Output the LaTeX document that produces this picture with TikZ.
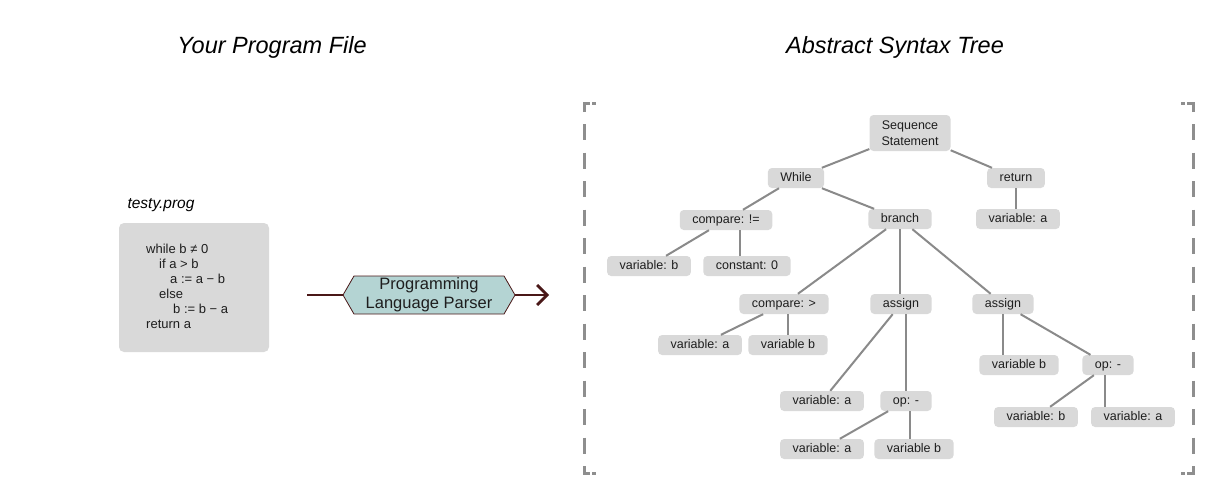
\documentclass[tikz,border=0pt]{standalone}
\usepackage{fontspec}
\setmainfont{Liberation Sans}
\usetikzlibrary{shapes.symbols,arrows.meta,positioning}
\definecolor{astgray}{HTML}{D9D9D9}
\definecolor{edgegray}{HTML}{8A8A8A}
\definecolor{bracketgray}{HTML}{8E8E8E}
\definecolor{parserteal}{HTML}{B4D4D3}
\definecolor{parserred}{HTML}{4A1818}
\definecolor{inktext}{HTML}{1E1E1E}

\tikzset{
	astnode/.style={fill=astgray, rounded corners=4pt, text=inktext, inner xsep=12.5pt, inner ysep=0pt,
		minimum height=20pt, text height=9pt, text depth=2pt, font=\fontsize{12.5}{15.5}\selectfont},
	astedge/.style={edgegray, line width=2pt},
	bracket/.style={bracketgray, line width=3pt},
	parser/.style={shape=signal, signal to=east and west, signal pointer angle=120, fill=parserteal,
		draw=parserred, line width=0.8pt, minimum width=172pt, minimum height=38pt, inner sep=0pt,
		align=center, text=inktext, font=\fontsize{16.5}{19}\selectfont},
	parserline/.style={parserred, line width=2.7pt},
	heading/.style={font=\fontsize{23.5}{27}\selectfont\itshape, text=black},
}

\begin{document}
\begin{tikzpicture}[x=1pt,y=-1pt]
		\useasboundingbox (0,0) rectangle (1230,501);
		% headings
		\node[heading] (filetitle) at (272,47) {Your Program File};
		\node[heading] (asttitle) at (895,47) {Abstract Syntax Tree};
		
		% program file
		\node[font=\fontsize{15.5}{18}\selectfont\itshape, anchor=west] (filename) at (124,205) {testy.prog};
		\fill[astgray, rounded corners=5pt] (119,223) rectangle (269,352);
		\node[anchor=north west, inner sep=0pt, align=left, text=inktext, font=\fontsize{13}{15}\selectfont] (code) at (146,243.5)
			{while b ≠ 0\\\hspace*{13pt}if a > b\\\hspace*{24pt}a := a − b\\\hspace*{13pt}else\\\hspace*{27pt}b := b − a\\return a};
		
		% parser
		\node[parser] (parser) at (429,295) {Programming\\Language Parser};
		\coordinate (parserin) at (307,295);
		\coordinate (parserout) at (549,295);
		\draw[parserline] (parserin) -- (parser.west);
		\draw[parserline, -{Straight Barb[length=10pt,width=20pt]}] (parser.east) -- (parserout);
		
		% brackets
		\draw[bracket] (584,112) -- (584,103) -- (590,103);
		\draw[bracket] (592,103) -- (596,103);
		\draw[bracket, dash pattern=on 16pt off 12.5pt] (584,124) -- (584,454);
		\draw[bracket] (584,466) -- (584,473) -- (590,473);
		\draw[bracket] (592,473) -- (596,473);
		\draw[bracket] (1193,112) -- (1193,103) -- (1187,103);
		\draw[bracket] (1185,103) -- (1181,103);
		\draw[bracket, dash pattern=on 16pt off 12.5pt] (1193,124) -- (1193,454);
		\draw[bracket] (1193,466) -- (1193,473) -- (1187,473);
		\draw[bracket] (1185,473) -- (1181,473);
		
		% tree nodes
		\node[astnode, inner xsep=12pt, minimum height=36pt, text height=, text depth=, align=center] (seq) at (910,133) {Sequence\\Statement};
		\node[astnode] (whl) at (796,178) {While};
		\node[astnode] (ret) at (1016,178) {return};
		\node[astnode] (cmpne) at (726,220) {compare: !=};
		\node[astnode] (brn) at (900,219) {branch};
		\node[astnode] (reta) at (1018,219) {variable: a};
		\node[astnode] (cmpb) at (649,266) {variable: b};
		\node[astnode] (czero) at (747,266) {constant: 0};
		\node[astnode] (cmpgt) at (784,304) {compare: >};
		\node[astnode] (asg1) at (901,304) {assign};
		\node[astnode] (asg2) at (1003,304) {assign};
		\node[astnode] (gta) at (700,345) {variable: a};
		\node[astnode] (gtb) at (788,345) {variable b};
		\node[astnode] (asg2b) at (1019,365) {variable b};
		\node[astnode] (op2) at (1108,365) {op: -};
		\node[astnode] (asg1a) at (822,401) {variable: a};
		\node[astnode] (op1) at (906,401) {op: -};
		\node[astnode] (op2b) at (1036,417) {variable: b};
		\node[astnode] (op2a) at (1133,417) {variable: a};
		\node[astnode] (op1a) at (822,449) {variable: a};
		\node[astnode] (op1b) at (914,449) {variable b};
		
		% tree edges
		\draw[astedge] (seq) -- (whl);
		\draw[astedge] (seq) -- (ret);
		\draw[astedge] (whl) -- (cmpne);
		\draw[astedge] (whl) -- (brn);
		\draw[astedge] (ret.south) -- (ret.south |- reta.north);
		\draw[astedge] (cmpne) -- (cmpb);
		\draw[astedge] ([xshift=-7pt]czero.north) -- ([xshift=-7pt]czero.north |- cmpne.south);
		\draw[astedge] (brn) -- (cmpgt);
		\draw[astedge] (brn.south) -- (brn.south |- asg1.north);
		\draw[astedge] (brn) -- (asg2);
		\draw[astedge] (cmpgt) -- (gta);
		\draw[astedge] (gtb.north) -- (gtb.north |- cmpgt.south);
		\draw[astedge] (asg1) -- (asg1a);
		\draw[astedge] (op1.north) -- (op1.north |- asg1.south);
		\draw[astedge] (asg2.south) -- (asg2.south |- asg2b.north);
		\draw[astedge] (asg2) -- (op2);
		\draw[astedge] (op1) -- (op1a);
		\draw[astedge] ([xshift=-4pt]op1b.north) -- ([xshift=-4pt]op1b.north |- op1.south);
		\draw[astedge] (op2) -- (op2b);
		\draw[astedge] ([xshift=-3pt]op2.south) -- ([xshift=-3pt]op2.south |- op2a.north);
	\end{tikzpicture}
\end{document}
